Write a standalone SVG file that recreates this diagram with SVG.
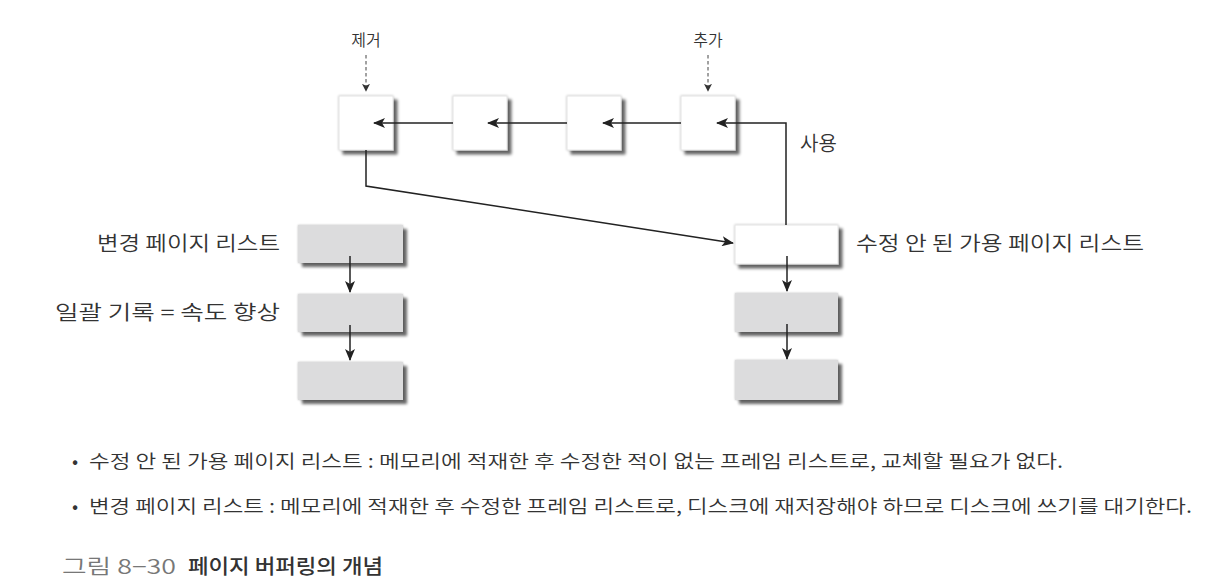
<svg xmlns="http://www.w3.org/2000/svg" width="1228" height="586" viewBox="0 0 1228 586">
<style>
.t{font-family:"Noto Sans CJK KR","Noto Sans",sans-serif;fill:#333;font-weight:350;}
.lab{font-size:20px;}
.small{font-size:16px;}
.body{font-size:18.5px;}
.cap{font-size:20px;font-family:"Noto Sans CJK KR","Noto Sans",sans-serif;}
.box{filter:url(#sh);}
.w{fill:#ffffff;stroke:#e4e4e4;stroke-width:1;}
.g{fill:#dcdcdd;stroke:none;}
.ln{fill:none;stroke:#222;stroke-width:1.5;}
.dash{fill:none;stroke:#444;stroke-width:1;stroke-dasharray:3.5 2.5;}
</style>
<defs>
<filter id="sh" x="-20%" y="-20%" width="150%" height="150%">
<feGaussianBlur in="SourceAlpha" stdDeviation="1.2" result="b1"/>
<feOffset in="b1" dx="0" dy="0" result="o1"/>
<feComponentTransfer in="o1" result="c1"><feFuncA type="linear" slope="0.25"/></feComponentTransfer>
<feGaussianBlur in="SourceAlpha" stdDeviation="1.5" result="b2"/>
<feOffset in="b2" dx="4" dy="4" result="o2"/>
<feComponentTransfer in="o2" result="c2"><feFuncA type="linear" slope="0.6"/></feComponentTransfer>
<feMerge><feMergeNode in="c2"/><feMergeNode in="c1"/><feMergeNode in="SourceGraphic"/></feMerge>
</filter>
<marker id="ah" viewBox="0 0 12 10" refX="11" refY="5" markerWidth="12" markerHeight="10" markerUnits="userSpaceOnUse" orient="auto">
<path d="M0,0 L12,5 L0,10 L3,5 Z" fill="#222"/>
</marker>
<marker id="ahs" viewBox="0 0 10 10" refX="9" refY="5" markerWidth="8" markerHeight="8" markerUnits="userSpaceOnUse" orient="auto">
<path d="M0,0 L10,5 L0,10 L2.5,5 Z" fill="#333"/>
</marker>
</defs>

<g id="top1"><rect class="box w" x="339" y="96" width="54" height="54"/></g>
<g id="top2"><rect class="box w" x="453" y="96" width="54" height="54"/></g>
<g id="top3"><rect class="box w" x="567" y="96" width="54" height="54"/></g>
<g id="top4"><rect class="box w" x="681" y="96" width="54" height="54"/></g>

<g id="left1"><rect class="box g" x="298" y="225" width="105" height="38"/></g>
<g id="left2"><rect class="box g" x="298" y="294" width="105" height="38"/></g>
<g id="left3"><rect class="box g" x="298" y="362" width="105" height="38"/></g>

<g id="right1"><rect class="box w" x="735" y="225" width="103" height="39"/></g>
<g id="right2"><rect class="box g" x="735" y="293" width="103" height="39"/></g>
<g id="right3"><rect class="box g" x="735" y="360" width="103" height="40"/></g>

<g id="connectors">
<line class="ln" x1="453" y1="123" x2="374" y2="123" marker-end="url(#ah)"/>
<line class="ln" x1="567" y1="123" x2="488" y2="123" marker-end="url(#ah)"/>
<line class="ln" x1="681" y1="123" x2="603" y2="123" marker-end="url(#ah)"/>
<polyline class="ln" points="786,225 786,123 717,123" marker-end="url(#ah)"/>
<polyline class="ln" points="366,150 366,186 733,243" marker-end="url(#ah)"/>
<line class="dash" x1="366" y1="55" x2="366" y2="91" marker-end="url(#ahs)"/>
<line class="dash" x1="708" y1="55" x2="708" y2="91" marker-end="url(#ahs)"/>
<line class="ln" x1="350" y1="256" x2="350" y2="292" marker-end="url(#ah)"/>
<line class="ln" x1="350" y1="325" x2="350" y2="360" marker-end="url(#ah)"/>
<line class="ln" x1="787" y1="256" x2="787" y2="291" marker-end="url(#ah)"/>
<line class="ln" x1="787" y1="324" x2="787" y2="359" marker-end="url(#ah)"/>
</g>

<g id="labels">
<text class="t small" x="366" y="46" text-anchor="middle">제거</text>
<text class="t small" x="708" y="46" text-anchor="middle">추가</text>
<text class="t lab" x="800" y="151">사용</text>
<text class="t lab" x="280" y="251" text-anchor="end" textLength="183" lengthAdjust="spacingAndGlyphs">변경 페이지 리스트</text>
<text class="t lab" x="280" y="320" text-anchor="end" textLength="225" lengthAdjust="spacingAndGlyphs">일괄 기록 = 속도 향상</text>
<text class="t lab" x="856" y="251" textLength="288" lengthAdjust="spacingAndGlyphs">수정 안 된 가용 페이지 리스트</text>
<text class="t body" x="72" y="468">•</text>
<text class="t body" x="89" y="468" textLength="974" lengthAdjust="spacingAndGlyphs">수정 안 된 가용 페이지 리스트 : 메모리에 적재한 후 수정한 적이 없는 프레임 리스트로, 교체할 필요가 없다.</text>
<text class="t body" x="72" y="513">•</text>
<text class="t body" x="89" y="513" textLength="1103" lengthAdjust="spacingAndGlyphs">변경 페이지 리스트 : 메모리에 적재한 후 수정한 프레임 리스트로, 디스크에 재저장해야 하므로 디스크에 쓰기를 대기한다.</text>
<text class="cap" x="62" y="574" style="fill:#777;font-weight:350;" textLength="114" lengthAdjust="spacingAndGlyphs">그림 8−30</text>
<text class="cap" x="188" y="574" style="fill:#333;font-weight:500;" textLength="195" lengthAdjust="spacingAndGlyphs">페이지 버퍼링의 개념</text>
</g>
</svg>
